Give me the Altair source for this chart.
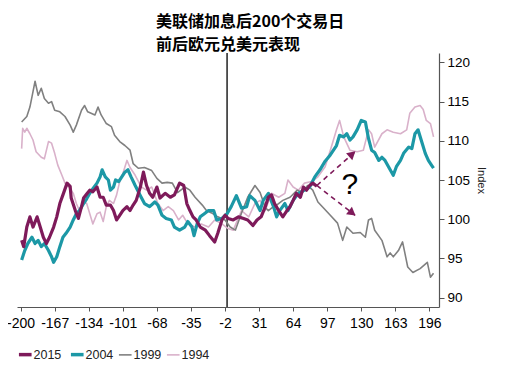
import altair as alt
import pandas as pd

# ---- data (trading days relative to Fed hike, EUR/USD index) ----
days_2015 = [-199,-197,-194,-191,-188,-184,-181,-178,-175,-172,-168,-165,-162,-159,-155,-152,-151,-147,-144,-141,
             -139,-136,-133,-130,-126,-123,-120,-117,-113,-110,-107,-104,-101,-97,-94,-91,-88,-84,-81,-78,
             -75,-72,-68,-65,-60,-55,-51,-46,-42,-39,-36,-33,-30,-26,-21,-17,-12,-9,-5,-2,
             1,6,11,16,20,25,29,33,37,40,43,46,50,54,58,61,64,67,71,74,77,80,83,87]
vals_2015 = [97.3,96.5,99.0,100.3,99.0,100.3,99.0,97.7,96.9,97.7,99.0,100.3,102.0,103.1,104.6,104.2,102.7,101.1,100.1,101.6,
             102.7,103.2,103.7,103.5,104.1,102.8,102.8,101.8,101.8,101.1,99.9,100.5,101.1,101.6,101.1,101.8,102.4,104.1,106.0,104.3,
             103.3,102.8,104.1,102.7,103.3,102.8,103.1,104.6,104.3,102.0,101.1,100.3,99.9,99.0,98.6,97.9,97.1,98.2,99.9,100.5,
             100.1,99.9,100.3,100.1,99.9,99.2,99.9,100.3,101.6,102.8,103.1,102.0,101.1,100.3,101.1,101.6,102.4,103.3,102.8,104.1,
             103.7,104.3,104.6,104.2]

days_2004 = [-199,-196,-193,-189,-186,-183,-180,-177,-173,-170,-168,-165,-162,-159,-156,-152,-149,-146,-143,-139,
             -136,-133,-130,-126,-123,-121,-118,-115,-113,-110,-108,-105,-102,-99,-96,-93,-89,-84,-80,-75,
             -70,-67,-63,-59,-54,-51,-46,-41,-38,-34,-32,-29,-26,-22,-18,-13,-10,-5,0,4,
             9,14,19,22,27,32,35,40,45,48,51,56,59,64,69,75,80,85,90,95,
             100,106,109,113,116,119,122,126,130,134,137,140,143,147,150,153,158,161,164,168,
             171,176,179,182,185,189,192,195,198,200]
vals_2004 = [94.8,96.0,96.9,97.7,96.9,97.3,96.5,96.9,96.0,95.2,94.5,95.2,96.5,97.7,98.2,99.0,99.9,100.7,101.1,102.0,
             102.6,103.3,103.9,104.6,105.4,106.3,105.4,105.0,103.7,104.1,105.0,104.8,105.4,106.0,106.3,105.4,104.3,103.0,102.0,101.6,
             102.2,101.8,100.5,100.1,99.9,99.0,98.6,99.0,99.7,99.0,97.9,99.4,100.3,100.7,101.1,101.1,99.9,100.1,100.7,101.6,
             103.0,101.4,101.6,103.0,102.4,101.1,102.4,103.3,101.6,100.3,101.1,102.0,101.1,102.4,103.3,103.7,104.1,105.4,106.3,107.4,
             108.2,109.4,110.7,110.5,110.9,110.1,110.5,111.4,112.6,112.4,110.3,108.8,108.5,107.5,107.9,107.5,106.3,105.6,106.7,107.5,
             108.4,109.2,109.0,110.9,111.4,109.7,108.4,107.5,106.9,106.5]

days_1999 = [-199,-194,-191,-189,-186,-183,-180,-177,-173,-170,-167,-162,-157,-152,-149,-146,-141,-138,-135,-128,
             -125,-122,-117,-112,-109,-104,-99,-94,-91,-86,-80,-73,-68,-63,-58,-53,-48,-41,-36,-31,
             -24,-20,-15,-9,-2,3,8,14,20,27,32,37,40,44,48,54,61,68,73,78,
             83,88,93,100,107,112,116,122,129,134,137,140,143,150,155,158,161,166,170,173,
             175,180,187,194,197,200]
vals_1999 = [112.4,113.1,114.3,115.6,117.6,115.8,116.7,115.4,114.8,115.0,113.9,113.7,113.1,112.0,111.1,112.0,113.9,114.5,113.7,113.3,
             114.3,113.3,112.2,111.8,110.7,109.9,109.4,108.8,107.1,106.5,106.6,106.2,105.2,104.6,104.7,104.6,103.4,104.1,103.7,102.8,
             101.8,101.1,100.8,100.3,99.9,99.0,98.6,100.8,102.8,104.3,103.4,101.5,101.1,101.5,101.8,102.4,102.8,103.7,103.4,104.3,
             103.7,102.2,101.5,100.5,99.5,97.3,99.0,98.2,98.3,97.7,99.9,100.1,98.6,97.3,95.2,95.7,95.2,96.0,97.1,95.2,
             93.9,93.2,93.7,94.5,92.6,93.1]

days_1994 = [-199,-198,-196,-194,-191,-188,-185,-180,-177,-173,-170,-167,-164,-160,-157,-152,-149,-146,-143,-139,
             -136,-133,-130,-126,-123,-120,-117,-114,-110,-107,-104,-101,-97,-94,-89,-83,-78,-73,-67,-62,
             -57,-52,-47,-43,-38,-31,-25,-18,-12,-5,1,6,14,21,27,32,37,43,50,56,
             59,64,69,75,82,88,95,101,106,109,113,119,126,132,137,140,143,150,155,161,
             168,174,177,182,187,190,193,197,200]
vals_1994 = [109.0,111.6,111.1,111.6,110.9,110.1,108.6,107.9,107.7,109.9,109.7,108.4,106.9,105.6,104.6,103.9,103.3,102.0,101.1,102.2,
             102.0,100.7,99.4,100.7,100.9,99.7,101.6,102.4,102.0,103.1,104.8,105.8,107.5,106.6,105.6,104.1,103.7,104.1,102.0,101.1,
             101.6,101.1,99.9,100.5,99.4,99.0,99.4,99.0,99.9,99.4,98.8,98.6,101.1,100.3,102.0,102.4,101.1,103.3,102.8,103.3,
             105.0,104.1,103.7,104.6,104.8,105.4,106.7,109.2,111.4,112.6,110.5,108.8,108.6,108.8,111.4,110.9,109.2,110.9,111.4,111.1,
             110.9,111.4,113.5,114.3,114.5,114.0,112.6,112.2,110.5]

series_names = ["2015", "2004", "1999", "1994"]
series_colors = ["#7E1A5A", "#1C98A6", "#808080", "#D9B1CA"]
series_widths = [3.2, 3.2, 1.6, 1.6]
draw_order = ["1994", "1999", "2004", "2015"]

x_ticks = [-200, -167, -134, -101, -68, -35, -2, 31, 64, 97, 130, 163, 196]
y_ticks = [90, 95, 100, 105, 110, 115, 120]
hike_day = [0]

arrow_id = ["up", "up", "down", "down"]
arrow_day = [87, 124, 87, 124]
arrow_val = [104.3, 108.6, 104.3, 100.5]
head_day = [120.3, 120.2]
head_val = [108.2, 100.9]
head_angle = [49, 128]
qmark_day = [119]
qmark_val = [104.4]

title_lines = ["美联储加息后200个交易日", "前后欧元兑美元表现"]

# ---- build tables ----
series_data = {
    "2015": (days_2015, vals_2015),
    "2004": (days_2004, vals_2004),
    "1999": (days_1999, vals_1999),
    "1994": (days_1994, vals_1994),
}
df = pd.concat(
    [pd.DataFrame({"day": d, "value": v, "year": k}) for k, (d, v) in series_data.items()],
    ignore_index=True,
)
arrows = pd.DataFrame({"id": arrow_id, "day": arrow_day, "value": arrow_val})
heads = pd.DataFrame({"day": head_day, "value": head_val, "angle": head_angle})
qmark = pd.DataFrame({"day": qmark_day, "value": qmark_val})
rule_df = pd.DataFrame({"day": hike_day})

FONT = "Liberation Sans"
maroon = series_colors[0]

x_scale = alt.Scale(domain=[-203.5, 205.3], nice=False, zero=False)
y_scale = alt.Scale(domain=[88.8, 121.2], nice=False, zero=False)
color_scale = alt.Scale(domain=series_names, range=series_colors)

x_axis = alt.Axis(values=x_ticks, title=None, grid=False, tickSize=4, labelPadding=5,
                  labelFont=FONT, labelFontSize=14, labelColor="black",
                  domainColor="#555", tickColor="#555", domainWidth=1.2,
                  labelExpr="'' + datum.value", labelOverlap=False, labelFlush=False)
y_axis = alt.Axis(values=y_ticks, orient="right", title="Index", grid=False, tickSize=5,
                  labelPadding=3, labelFont=FONT, labelFontSize=13.5, labelColor="black",
                  domainColor="#555", tickColor="#555", domainWidth=1.2,
                  titleFont=FONT, titleFontSize=11, titleFontWeight="normal",
                  titleColor="#222", titlePadding=6, labelOverlap=False)

legend = alt.Legend(
    orient="none", legendX=2, legendY=295, direction="horizontal", title=None,
    symbolType="stroke", symbolSize=160, labelFont=FONT, labelFontSize=12.5,
    labelColor="#222", columnPadding=1, labelOffset=2,
    symbolStrokeWidth=alt.ExprRef(expr="indexof(['2015','2004'], datum.value) >= 0 ? 3.5 : 1.6"),
)

X = alt.X("day:Q", scale=x_scale, axis=x_axis)
Y = alt.Y("value:Q", scale=y_scale, axis=y_axis)

layers = []
for name in draw_order:
    w = series_widths[series_names.index(name)]
    layers.append(
        alt.Chart(df).transform_filter(alt.datum.year == name)
        .mark_line(strokeWidth=w, strokeJoin="round")
        .encode(
            x=X, y=Y,
            color=alt.Color("year:N", scale=color_scale, legend=legend),
        )
    )

rule = alt.Chart(rule_df).mark_rule(color="#222", strokeWidth=1.5).encode(x=X)

arrow_lines = alt.Chart(arrows).mark_line(color=maroon, strokeWidth=1.6, strokeDash=[5, 4]).encode(
    x=X, y=Y, detail="id:N",
)
arrow_heads = alt.Chart(heads).mark_point(shape="triangle", filled=True, size=90,
                                          color=maroon, opacity=1).encode(
    x=X, y=Y, angle=alt.Angle("angle:Q", scale=None),
)
qtext = alt.Chart(qmark).mark_text(text="?", font=FONT, fontSize=30, color="black").encode(
    x=X, y=Y,
)

chart = alt.layer(rule, *layers, arrow_lines, arrow_heads, qtext).properties(
    width=422,
    height=254,
    padding={"left": 9, "top": 45, "right": 72, "bottom": 55},
    autosize=alt.AutoSizeParams(type="none"),
    title=alt.TitleParams(
        text=title_lines, anchor="start", frame="group", dx=139, offset=-1,
        font="Noto Sans CJK SC", fontSize=16, fontWeight="bold", lineHeight=23.5,
        color="black",
    ),
).configure_view(stroke=None).configure_axisX(labelOverlap=False)

chart.save("out.html", embed_options={"renderer": "svg", "actions": False})
